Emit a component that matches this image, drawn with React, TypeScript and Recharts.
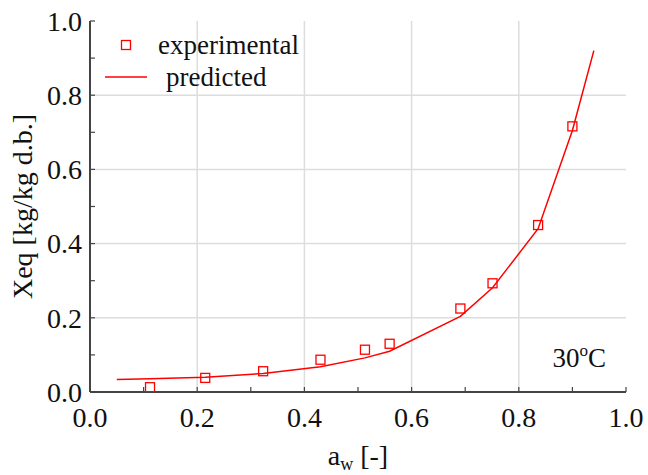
import React from "react";
import {
  ComposedChart,
  Line,
  Scatter,
  XAxis,
  YAxis,
  ReferenceLine,
  Legend,
} from "recharts";

// experimental points (a_w, Xeq)
const expAw = [0.112, 0.215, 0.323, 0.43, 0.513, 0.559, 0.691, 0.751, 0.836, 0.9];
const expXeq = [0.013, 0.038, 0.056, 0.087, 0.114, 0.13, 0.225, 0.293, 0.45, 0.716];

// model curve
const predAw = [0.05, 0.112, 0.215, 0.323, 0.43, 0.513, 0.559, 0.691, 0.751, 0.836, 0.9, 0.94];
const predXeq = [0.034, 0.036, 0.04, 0.05, 0.068, 0.092, 0.11, 0.204, 0.281, 0.44, 0.705, 0.92];

const axisTicks = [0, 0.1, 0.2, 0.3, 0.4, 0.5, 0.6, 0.7, 0.8, 0.9, 1.0];
const gridValues = [0.2, 0.4, 0.6, 0.8];

const expData = expAw.map((x, i) => ({ x, y: expXeq[i] }));
const predData = predAw.map((x, i) => ({ x, y: predXeq[i] }));

const FONT = "Liberation Serif";
const RED = "#ff0000";
const AXIS = "#444";
const GRID = "#dddddd";
const TICK = 5;

const isMajor = (v: number) => Math.round(v * 10) % 2 === 0;

const BottomTick = ({ x, y, payload }: any) => (
  <g>
    <line x1={x} x2={x} y1={y} y2={y - TICK} stroke={AXIS} strokeWidth={1.2} />
    {isMajor(payload.value) && (
      <text x={x} y={y + 35} textAnchor="middle" fontSize={28} fontFamily={FONT} fill="#111">
        {payload.value.toFixed(1)}
      </text>
    )}
  </g>
);

const TopTick = ({ x, y }: any) => (
  <line x1={x} x2={x} y1={y} y2={y + TICK} stroke={AXIS} strokeWidth={1.2} />
);

const LeftTick = ({ x, y, payload }: any) => (
  <g>
    <line x1={x} x2={x + TICK} y1={y} y2={y} stroke={AXIS} strokeWidth={1.2} />
    {isMajor(payload.value) && (
      <text x={x - 8} y={y} dy="0.35em" textAnchor="end" fontSize={28} fontFamily={FONT} fill="#111">
        {payload.value.toFixed(1)}
      </text>
    )}
  </g>
);

const RightTick = ({ x, y }: any) => (
  <line x1={x} x2={x - TICK} y1={y} y2={y} stroke={AXIS} strokeWidth={1.2} />
);

const YTitle = ({ viewBox }: any) => {
  const cx = viewBox.x + 32;
  const cy = viewBox.y + viewBox.height / 2;
  return (
    <text
      x={cx}
      y={cy}
      transform={`rotate(-90 ${cx} ${cy})`}
      textAnchor="middle"
      fontSize={28}
      fontFamily={FONT}
      fill="#111"
    >
      Xeq [kg/kg d.b.]
    </text>
  );
};

const XTitle = ({ viewBox }: any) => {
  const cx = viewBox.x + viewBox.width / 2;
  const by = viewBox.y + 73;
  return (
    <text x={cx} y={by} textAnchor="middle" fontSize={28} fontFamily={FONT} fill="#111">
      a
      <tspan fontSize={18} dy={5}>w</tspan>
      <tspan dy={-5}> [-]</tspan>
    </text>
  );
};

const SquareMarker = ({ cx, cy }: any) => (
  <rect x={cx - 4.5} y={cy - 4.5} width={9} height={9} fill="none" stroke={RED} strokeWidth={1.3} />
);

const LegendBox = () => (
  <svg width={320} height={100}>
    <rect x={121.5} y={40.5} width={9} height={9} fill="none" stroke={RED} strokeWidth={1.3} />
    <text x={158} y={54} fontSize={27} fontFamily={FONT} fill="#111">experimental</text>
    <line x1={105} x2={147} y1={77} y2={77} stroke={RED} strokeWidth={1.3} />
    <text x={166} y={86} fontSize={27} fontFamily={FONT} fill="#111">predicted</text>
  </svg>
);

export default function App() {
  return (
    <div style={{ position: "absolute", left: 0, top: 0, width: 648, height: 475, background: "#fff" }}>
      <style>{`svg text, svg tspan { font-family: 'Liberation Serif', 'Times New Roman', serif !important; }`}</style>
      <ComposedChart width={648} height={475} margin={{ top: 21, right: 22, bottom: 0, left: 0 }}>
        <XAxis
          xAxisId="x"
          type="number"
          dataKey="x"
          domain={[0, 1]}
          ticks={axisTicks}
          allowDataOverflow
          height={83}
          tickSize={0}
          tickMargin={0}
          tickLine={false}
          tick={<BottomTick />}
          axisLine={{ stroke: AXIS, strokeWidth: 2 }}
          interval={0}
          label={{ content: XTitle }}
        />
        <XAxis
          xAxisId="xt"
          orientation="top"
          type="number"
          domain={[0, 1]}
          ticks={axisTicks}
          allowDataOverflow
          height={0}
          tickSize={0}
          tickMargin={0}
          tickLine={false}
          tick={<TopTick />}
          axisLine={{ stroke: AXIS, strokeWidth: 2 }}
          interval={0}
        />
        <YAxis
          yAxisId="y"
          type="number"
          dataKey="y"
          domain={[0, 1]}
          ticks={axisTicks}
          allowDataOverflow
          width={90}
          tickSize={0}
          tickMargin={0}
          tickLine={false}
          tick={<LeftTick />}
          axisLine={{ stroke: AXIS, strokeWidth: 2 }}
          interval={0}
          label={{ content: YTitle }}
        />
        <YAxis
          yAxisId="yr"
          orientation="right"
          type="number"
          domain={[0, 1]}
          ticks={axisTicks}
          allowDataOverflow
          width={0}
          tickSize={0}
          tickMargin={0}
          tickLine={false}
          tick={<RightTick />}
          axisLine={{ stroke: "#666", strokeWidth: 2.5 }}
          interval={0}
        />
        {gridValues.map((v) => (
          <ReferenceLine key={`vx${v}`} xAxisId="x" yAxisId="y" x={v} stroke={GRID} strokeWidth={1.5} />
        ))}
        {gridValues.map((v) => (
          <ReferenceLine key={`hy${v}`} xAxisId="x" yAxisId="y" y={v} stroke={GRID} strokeWidth={1.5} />
        ))}
        <Legend
          layout="vertical"
          align="center"
          verticalAlign="middle"
          content={<LegendBox />}
          wrapperStyle={{ top: 0, left: 0, width: 320, height: 100 }}
        />
        <Line
          xAxisId="x"
          yAxisId="y"
          data={predData}
          dataKey="y"
          name="predicted"
          type="linear"
          stroke={RED}
          strokeWidth={1.5}
          dot={false}
          activeDot={false}
          isAnimationActive={false}
        />
        <Scatter
          xAxisId="x"
          yAxisId="y"
          data={expData}
          dataKey="y"
          name="experimental"
          shape={<SquareMarker />}
          isAnimationActive={false}
        />
      </ComposedChart>
      <svg width={648} height={475} style={{ position: "absolute", left: 0, top: 0, pointerEvents: "none" }}>
        <text x={606} y={367} textAnchor="end" fontSize={27} fontFamily={FONT} fill="#111">
          30
          <tspan fontSize={17} dy={-11}>o</tspan>
          <tspan dy={11}>C</tspan>
        </text>
      </svg>
    </div>
  );
}
